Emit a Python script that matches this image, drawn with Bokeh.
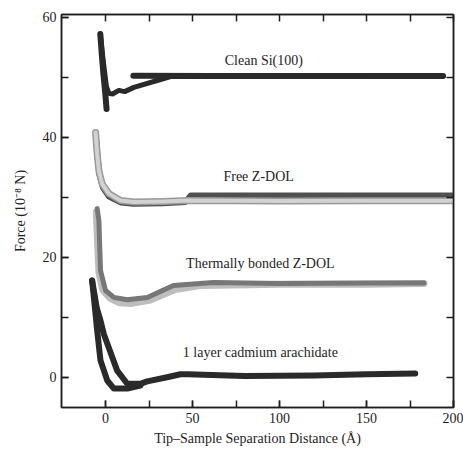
from bokeh.plotting import figure
from bokeh.models import Range1d, LinearAxis, FixedTicker, ColumnDataSource
from bokeh.core.properties import value
from bokeh.embed import file_html
from bokeh.resources import INLINE

# ---- data ----
si_app_x = [194, 150, 100, 60, 37.4, 29.7, 16.3, 11, 7.7, 4, 1.9, 0.5, -1, -2.2, -3]
si_app_y = [50.2, 50.2, 50.1, 50.1, 50.1, 49.45, 48.3, 47.6, 47.8, 47.2, 47.3, 48.5, 52, 55, 57.2]
si_spk_x = [-3.0, -2.2, -1.2, -0.2, 0.6]
si_spk_y = [57.2, 54.0, 50.5, 47.5, 44.7]
si_ret_x = [16, 60, 100, 150, 194]
si_ret_y = [50.25, 50.2, 50.2, 50.2, 50.2]

fz_ret_x = [-5.5, -4.5, -3.5, -1.5, 2, 9, 16, 33, 46, 49, 100, 150, 200]
fz_ret_y = [40.0, 36.5, 33.8, 31.6, 30.1, 29.1, 28.9, 29.0, 29.2, 30.3, 30.3, 30.3, 30.3]
fz_app_x = [200, 150, 100, 47, 33.5, 16.3, 8.6, 1.9, -1.9, -3.8, -4.8, -5.7]
fz_app_y = [29.4, 29.4, 29.35, 29.45, 29.3, 29.2, 29.45, 30.6, 32.2, 34.4, 37.2, 40.8]

tb_ret_x = [-5.3, -4.5, -3.8, -1.5, 2.5, 8, 15, 25, 40, 55, 100, 150, 183]
tb_ret_y = [27.5, 22.0, 17.5, 14.5, 13.2, 12.4, 12.3, 12.8, 14.6, 15.3, 15.5, 15.5, 15.6]
tb_app_x = [183, 150, 100, 62, 39, 24, 12.4, 4.8, 0, -2.9, -3.8, -4.8]
tb_app_y = [15.7, 15.7, 15.6, 15.8, 15.3, 13.3, 12.9, 13.3, 14.45, 17.8, 26.1, 28.1]

cd_out_x = [-7.7, -6.7, -4.8, -2.9, 1, 4.8, 12.5, 20]
cd_out_y = [16.1, 13.3, 7.8, 2.8, -0.55, -1.9, -1.9, -1.4]
cd_in_x = [-7.7, -5, -2.9, -1, 1, 6.7, 12.5, 20, 24, 35.4, 43, 47, 80, 120, 150, 178]
cd_in_y = [16.1, 11.5, 9.45, 7.2, 5.6, 1.1, -1.1, -1.1, -0.7, 0, 0.5, 0.5, 0.2, 0.3, 0.5, 0.6]

ann_x = [91, 88, 89, 89]
ann_y = [52.8, 33.4, 19.0, 4.2]
ann_text = ["Clean Si(100)", "Free Z-DOL", "Thermally bonded Z-DOL", "1 layer cadmium arachidate"]

x_major = [0, 50, 100, 150, 200]
x_minor = [0, 25, 50, 75, 100, 125, 150, 175, 200]
y_major = [0, 20, 40, 60]
y_minor = [0, 10, 20, 30, 40, 50, 60]

FONT = "Liberation Serif"
DARK = "#2a2a2a"
INK = "#1e1e1e"

p = figure(width=463, height=451, output_backend="svg", toolbar_location=None,
           x_range=Range1d(-25.3, 200), y_range=Range1d(-5.05, 60.45),
           min_border_left=61, min_border_right=10, min_border_top=14, min_border_bottom=44)
p.background_fill_color = "white"
p.border_fill_color = "white"
p.grid.visible = False
p.outline_line_color = INK
p.outline_line_width = 1.5

def style(ax):
    ax.axis_line_color = INK
    ax.axis_line_width = 1.5
    ax.major_tick_in = 7
    ax.major_tick_out = 0
    ax.minor_tick_in = 7
    ax.minor_tick_out = 0
    ax.major_tick_line_color = INK
    ax.minor_tick_line_color = INK
    ax.major_tick_line_width = 1.5
    ax.minor_tick_line_width = 1.5
    ax.major_label_text_font = FONT
    ax.major_label_text_font_size = "14px"
    ax.major_label_text_color = INK
    ax.major_label_standoff = 5
    ax.axis_label_text_font = FONT
    ax.axis_label_text_font_size = "14px"
    ax.axis_label_text_font_style = "normal"
    ax.axis_label_text_color = INK

p.xaxis.ticker = FixedTicker(ticks=x_major, minor_ticks=x_minor)
p.yaxis.ticker = FixedTicker(ticks=y_major, minor_ticks=y_minor)
p.xaxis.axis_label = "Tip–Sample Separation Distance (Å)"
p.yaxis.axis_label = "Force (10⁻⁸ N)"
style(p.xaxis[0])
style(p.yaxis[0])
p.yaxis[0].axis_label_standoff = 12

# mirrored axes: ticks only (all as minor ticks, so no labels are drawn)
top = LinearAxis(ticker=FixedTicker(ticks=[], minor_ticks=x_minor))
style(top)
top.major_label_standoff = 0
p.add_layout(top, "above")
right = LinearAxis(ticker=FixedTicker(ticks=[], minor_ticks=y_minor))
style(right)
right.major_label_standoff = 0
p.add_layout(right, "right")

# Clean Si(100)
p.line(si_ret_x, si_ret_y, line_color=DARK, line_width=6, line_cap="round")
p.line(si_app_x, si_app_y, line_color=DARK, line_width=5, line_cap="round", line_join="round")
p.line(si_spk_x, si_spk_y, line_color=DARK, line_width=6, line_cap="round")

# Free Z-DOL
p.line(fz_ret_x, fz_ret_y, line_color="#505050", line_width=6, line_cap="round", line_join="round")
p.line(fz_app_x, fz_app_y, line_color="#999999", line_width=7, line_cap="round", line_join="round")
p.line(fz_app_x, fz_app_y, line_color="#d2d2d2", line_width=4, line_cap="round", line_join="round")

# Thermally bonded Z-DOL
p.line(tb_ret_x, tb_ret_y, line_color="#bdbdbd", line_width=7, line_cap="round", line_join="round")
p.line(tb_app_x, tb_app_y, line_color="#777777", line_width=5, line_cap="round", line_join="round")

# 1 layer cadmium arachidate
p.line(cd_out_x, cd_out_y, line_color=DARK, line_width=6, line_cap="round", line_join="round")
p.line(cd_in_x, cd_in_y, line_color=DARK, line_width=6, line_cap="round", line_join="round")

src = ColumnDataSource(dict(x=ann_x, y=ann_y, t=ann_text))
p.text(x="x", y="y", text="t", source=src, text_font=value(FONT), text_font_size="14px",
       text_align="center", text_baseline="middle", text_color=INK)

open("out.html", "w").write(file_html(p, INLINE))
